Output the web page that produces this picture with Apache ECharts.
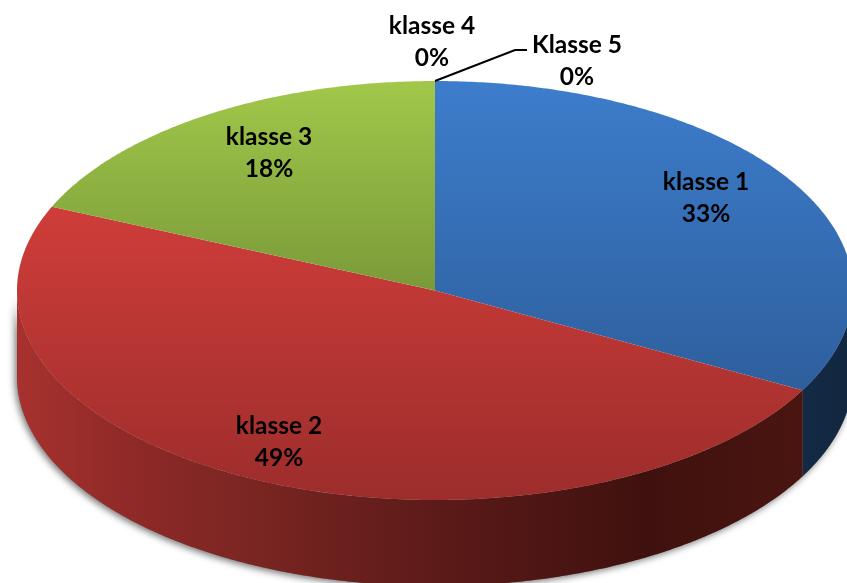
<!DOCTYPE html>
<html>
<head>
<meta charset="utf-8">
<style>
  html, body {margin: 0; padding: 0; background: #fff;}
  #chart {width: 847px; height: 583px;}
</style>
</head>
<body>
<div id="chart"></div>
<script src="https://cdn.jsdelivr.net/npm/echarts@6/dist/echarts.min.js"></script>
<script>
const classNames = ['klasse 1', 'klasse 2', 'klasse 3', 'klasse 4', 'Klasse 5']
// the labels show them rounded
const shares = [32.9, 48.65, 18.45, 0, 0]

// pie geometry
const cx = 435, cy = 290.5, rx = 418, ry = 209.5, depth = 86
const labelCenters = [[706, 198], [279, 442], [269, 153], [432, 42], [577, 61]]
const leaderElbows = {4: [[515, 50], [527, 50]]}

const lg = function (x0, y0, x1, y1, stops) {
  return new echarts.graphic.LinearGradient(x0, y0, x1, y1, stops.map((c, i) => {
    return Array.isArray(c) ? {offset: c[0], color: c[1]} : {offset: i / (stops.length - 1), color: c}
  }))
}

const topFills = [
  lg(0, 0, 0, 1, ['#3d7dcc', '#2e5f9d']),
  lg(0, 0, 0, 1, ['#cf3d3a', '#9c2d2b']),
  lg(0, 0, 0, 1, ['#a1c84a', '#7a9a39']),
]
const sideFills = [
  lg(0, 0, 1, 0, ['#132a45', '#12273f']),
  lg(0, 0, 1, 0, [[0, '#a8312e'], [0.14, '#8f2a28'], [0.3, '#7a2522'], [0.55, '#5a1a18'], [0.8, '#3f110e'], [1, '#4a1511']]),
]

const pointAt = function (deg, drop) {
  const a = deg * Math.PI / 180
  return [cx + rx * Math.sin(a), cy - ry * Math.cos(a) + (drop || 0)]
}

const arc = function (from, to, drop) {
  const pts = [], steps = Math.max(2, Math.ceil(Math.abs(to - from) * 2))
  for (let i = 0; i <= steps; i++) {
    pts.push(pointAt(from + (to - from) * i / steps, drop))
  }
  return pts
}

const sidePoints = function (from, to) {
  return arc(from, to, 0).concat(arc(to, from, depth))
}

// start and end angle of every slice, clockwise from 12 o'clock
const total = shares.reduce((a, b) => a + b, 0)
let running = 0
const slices = shares.map((v) => {
  const start = running
  running += v / total * 360
  return [start, running, v]
})

const renderSlice = function (params, api) {
  const i = params.dataIndex,
      start = api.value(0),
      end = api.value(1),
      children = []

  // soft shadow under the whole front wall
  if (i == 0) {
    children.push({
      type: 'polygon',
      shape: {points: sidePoints(90, 270)},
      style: {fill: '#777', shadowBlur: 7, shadowColor: 'rgba(0,0,0,0.55)', shadowOffsetX: -2, shadowOffsetY: 2},
    })
  }

  if (end > start) {
    const from = Math.max(start, 90), to = Math.min(end, 270)
    if (to > from) {
      children.push({type: 'polygon', shape: {points: sidePoints(from, to)}, style: {fill: sideFills[i]}})
    }
    children.push({
      type: 'polygon',
      shape: {points: [[cx, cy]].concat(arc(start, end, 0))},
      style: {fill: topFills[i]},
    })
  }

  if (leaderElbows[i]) {
    children.push({
      type: 'polyline',
      shape: {points: [pointAt(start)].concat(leaderElbows[i])},
      style: {stroke: '#000', lineWidth: 2, fill: null},
      z2: 10,
    })
  }

  children.push({
    type: 'text',
    z2: 20,
    style: {
      text: classNames[i] + '\n' + Math.round(api.value(2)) + '%',
      x: labelCenters[i][0],
      y: labelCenters[i][1],
      align: 'center',
      verticalAlign: 'middle',
      fontFamily: 'Lato',
      fontWeight: 'bold',
      fontSize: 24.5,
      lineHeight: 32,
      fill: '#000',
    },
  })
  return {type: 'group', children}
}

const chart = echarts.init(document.getElementById('chart'), null, {renderer: 'canvas'})
chart.setOption({
  backgroundColor: '#fff',
  animation: false,
  series: [{
    type: 'custom',
    coordinateSystem: 'none',
    renderItem: renderSlice,
    data: slices,
    silent: true,
  }],
})
</script>
</body>
</html>
